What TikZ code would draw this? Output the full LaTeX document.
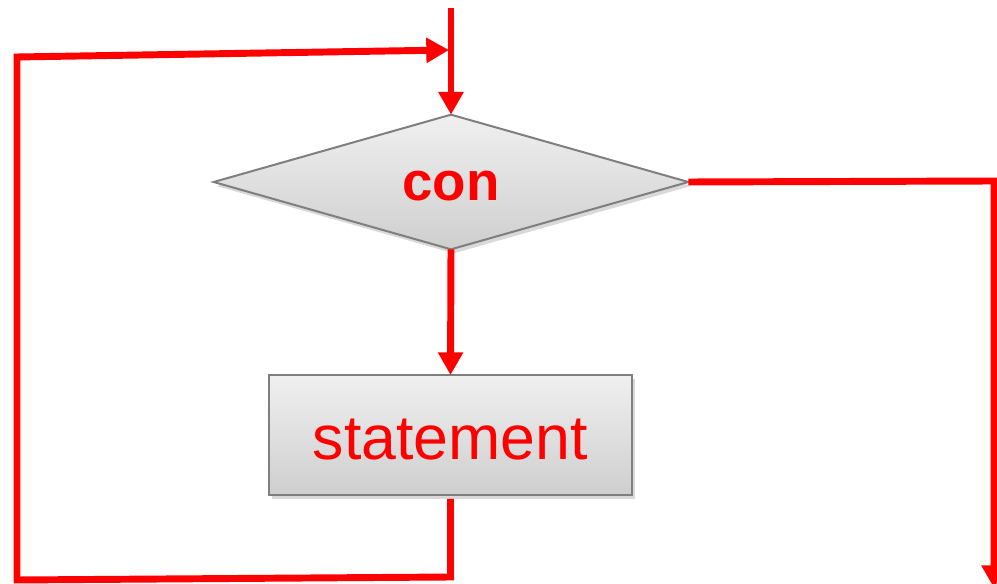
\documentclass[tikz,border=0pt]{standalone}
\usepackage{fontspec}
\setmainfont{Liberation Sans}
\usetikzlibrary{arrows.meta,shapes.geometric,shadows}
\definecolor{flowred}{HTML}{FF0000}
\definecolor{edgegray}{HTML}{7F7F7F}
\tikzset{
  shapebox/.style={draw=edgegray,line width=1.5pt,top color=gray!12,bottom color=gray!38,
    drop shadow={opacity=0.3,shadow xshift=2pt,shadow yshift=-3pt},inner sep=0pt,outer sep=0pt},
  decision/.style={shapebox,diamond,aspect=3.5,minimum width=356pt,minimum height=101pt,
    font=\bfseries\fontsize{41}{41}\selectfont,text=flowred,text height=28pt,text depth=0pt},
  block/.style={shapebox,rectangle,minimum width=272pt,minimum height=90pt,
    font=\fontsize{47}{47}\selectfont,text=flowred,text height=37pt,text depth=0pt},
  flow/.style={draw=flowred,line width=5.2pt},
  flowarrow/.style={flow,-{Triangle[length=17pt,width=18pt]}}
}
\begin{document}
\begin{tikzpicture}[x=0.75pt,y=-0.75pt]
      \useasboundingbox (0,0) rectangle (997,584);
      \draw
        (451,8) coordinate (top)
        (449,50) coordinate (join)
        (17,57) coordinate (topleft)
        (17,580) coordinate (botleft)
        (450.5,577) coordinate (botright)
        (994,181) coordinate (corner)
        (994,588) coordinate (exit);
      \node[decision] (con) at (451,182) {con};
      \node[block] (stmt) at (450.5,435) {statement};
      \begin{scope}
        \draw[flowarrow] (top) -- (con.north);
        \draw[flowarrow] (con.south) -- (stmt.north);
        \draw[flowarrow,shorten <=3pt] (stmt.south) -- (botright) -- (botleft) -- (topleft) -- (join);
        \draw[flowarrow] (con.east) -- (corner) -- (exit);
      \end{scope}
    \end{tikzpicture}
\end{document}
